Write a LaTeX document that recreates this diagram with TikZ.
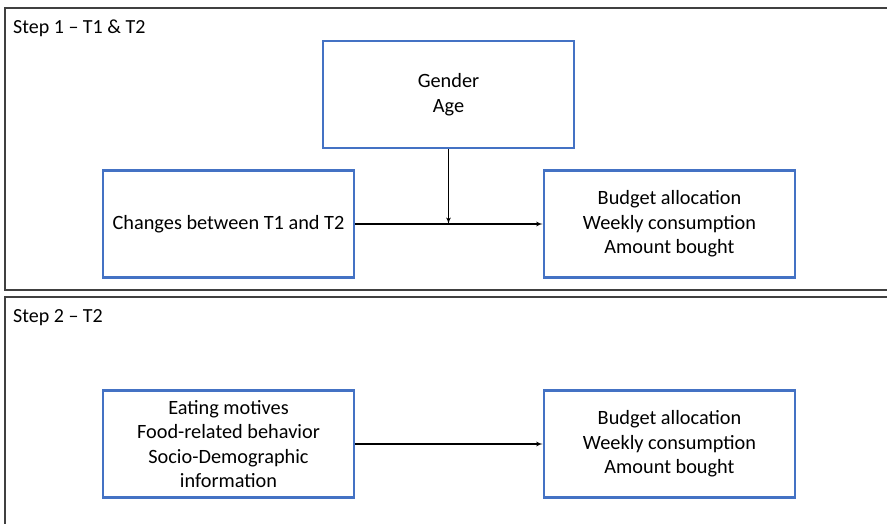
\documentclass[tikz,border=0pt]{standalone}
\usepackage{fontspec}
\setmainfont{Carlito}
\usetikzlibrary{arrows, positioning}
\definecolor{boxblue}{HTML}{4472C4}

\begin{document}
\begin{tikzpicture}[x=1pt, y=-1pt]
 \tikzstyle{vbox}=[rectangle, draw=boxblue, line width=2.8pt, minimum width=251pt, minimum height=107pt, align=center, font=\fontsize{20.3}{24.5}\selectfont]
 \tikzstyle{frame}=[draw=black!75, line width=1.2pt]
 \tikzstyle{steplabel}=[anchor=west, inner sep=0pt, font=\fontsize{20}{22}\selectfont]
 \tikzstyle{line} = [draw, line width=1.2pt, -latex']

 \useasboundingbox (0,0) rectangle (887,524);
 \clip (0,0) rectangle (887,524);

 % step 1
 \begin{scope}
  \draw[frame] (5,8) rectangle (900,290);
  \node[steplabel] (s1) at (13,28) {Step 1 -- T1 \& T2};
  \node[vbox] (gender) at (448.5,94.5) {Gender\\Age};
  \node[vbox] (chg) at (228.5,224) {Changes between T1 and T2};
  \node[vbox] (out1) at (669.5,224) {Budget allocation\\Weekly consumption\\Amount bought};
  \coordinate (join) at (gender.south |- chg.east);
  \path [line] (chg) -- (out1);
  \path [line] (gender) -- (join);
 \end{scope}

 % step 2
 \begin{scope}
  \draw[frame] (5,297) rectangle (900,540);
  \node[steplabel] (s2) at (13,318) {Step 2 -- T2};
  \node[vbox] (motives) at (228.5,444) {Eating motives\\Food-related behavior\\Socio-Demographic\\information};
  \node[vbox] (out2) at (669.5,444) {Budget allocation\\Weekly consumption\\Amount bought};
  \path [line] (motives) -- (out2);
 \end{scope}

\end{tikzpicture}
\end{document}
